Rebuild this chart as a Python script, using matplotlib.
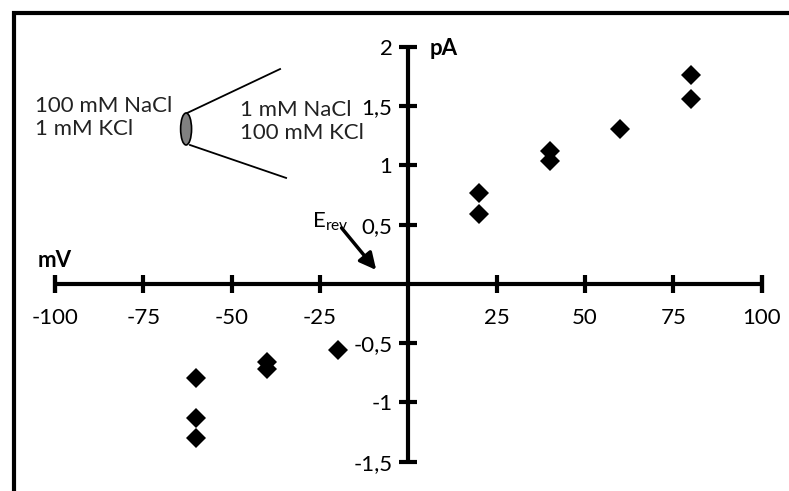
import numpy as np
import matplotlib.pyplot as plt
from matplotlib.patches import Ellipse, Rectangle

plt.rcParams['font.family'] = ['Lato', 'DejaVu Sans']
plt.rcParams['mathtext.fontset'] = 'custom'
plt.rcParams['mathtext.rm'] = 'Lato'

# I-V data: holding potential (mV) vs current (pA)
voltage = [-60, -60, -60, -40, -40, -20, 20, 20, 40, 40, 60, 80, 80]
current = [-0.79, -1.13, -1.30, -0.66, -0.72, -0.56, 0.77, 0.59, 1.12, 1.04, 1.31, 1.76, 1.56]

x_ticks = [-100, -75, -50, -25, 25, 50, 75, 100]
x_labels = ['-100', '-75', '-50', '-25', '25', '50', '75', '100']
y_ticks = [-1.5, -1, -0.5, 0.5, 1, 1.5, 2]
y_labels = ['-1,5', '-1', '-0,5', '0,5', '1', '1,5', '2']

W, H = 789, 491
fig = plt.figure(figsize=(W / 100, H / 100), dpi=100)
ax = fig.add_axes([55 / W, (H - 461.7) / H, (761.7 - 55) / W, (461.7 - 47) / H])
ax.set_xlim(-100, 100)
ax.set_ylim(-1.5, 2)

# crossed axes through the origin
for side in ['top', 'right']:
    ax.spines[side].set_visible(False)
ax.spines['bottom'].set_position(('data', 0))
ax.spines['left'].set_position(('data', 0))
for side in ['bottom', 'left']:
    ax.spines[side].set_linewidth(3)
    ax.spines[side].set_capstyle('butt')
ax.spines['bottom'].set_bounds(-100, 100)
ax.spines['left'].set_bounds(-1.5, 2)

ax.set_xticks(x_ticks)
ax.set_xticklabels(x_labels)
ax.set_yticks(y_ticks)
ax.set_yticklabels(y_labels)
ax.tick_params(axis='both', direction='inout', length=13, width=3, labelsize=16)
ax.tick_params(axis='x', pad=11)
ax.tick_params(axis='y', pad=5)
# tick marks at the axis ends
ax.plot([-100, 100], [0, 0], '|', color='black', ms=13, mew=3, clip_on=False)

ax.plot(voltage, current, 'D', color='black', ms=10.5, mew=0, clip_on=False, zorder=5)

ax.text(-104.8, 0.143, 'mV', fontsize=16, fontweight='bold', va='baseline', ha='left')
ax.text(6.1, 1.93, 'pA', fontsize=16, fontweight='bold', va='baseline', ha='left')

# reversal potential marker
ax.text(-27.3, 0.481, r'E$_{\mathrm{rev}}$', fontsize=16, va='baseline', ha='left')
ax.annotate('', xy=(-9.1, 0.118), xytext=(-18.9, 0.473),
            arrowprops=dict(arrowstyle='-|>,head_length=1.0,head_width=0.5',
                            color='black', lw=2.5, shrinkA=0, shrinkB=0))

# pipette sketch with bath/pipette solutions
ax.add_patch(Ellipse((-62.9, 1.308), 3.1, 0.27, facecolor='#808080',
                     edgecolor='black', lw=1.2, zorder=4))
ax.plot([-62.6, -36.3], [1.443, 1.814], color='black', lw=1.3)
ax.plot([-61.8, -34.6], [1.173, 0.895], color='black', lw=1.3)
ax.text(-105.7, 1.405, '100 mM NaCl\n1 mM KCl', fontsize=16, va='center', ha='left',
        linespacing=1.15, color='#222222')
ax.text(-47.7, 1.371, '1 mM NaCl\n100 mM KCl', fontsize=16, va='center', ha='left',
        linespacing=1.15, color='#222222')

# outer frame
fig.patches.append(Rectangle((14 / W, -0.2), 1.5, (H - 13) / H + 0.2, fill=False,
                             lw=3, edgecolor='black', transform=fig.transFigure))

fig.savefig('out.png', dpi=100)
